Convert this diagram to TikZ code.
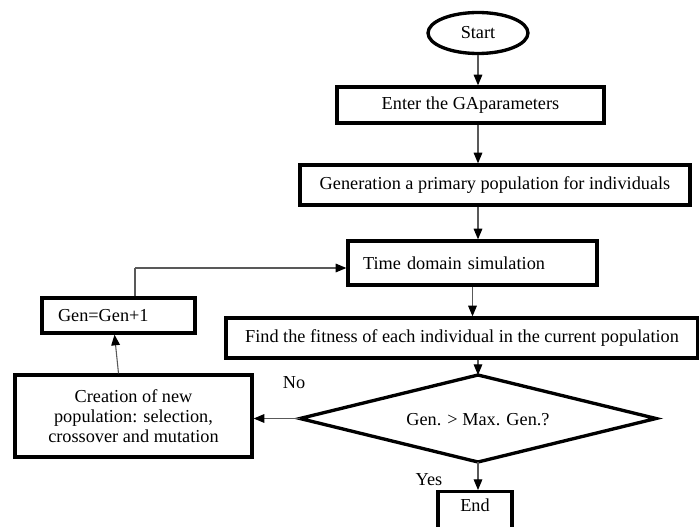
\documentclass[tikz,border=0pt]{standalone}
\usepackage{fontspec}
\setmainfont{Liberation Serif}
\usetikzlibrary{shapes.geometric,arrows.meta,calc}
\begin{document}
\begin{tikzpicture}[x=0.75pt,y=-0.75pt,
  every node/.style={font=\fontsize{13.7}{14.8}\selectfont},
  box/.style={draw=black, line width=2.5pt, rectangle, inner sep=0pt, align=center},
  conn/.style={draw=black!65, line width=0.8pt, -{Triangle[black,length=8pt,width=6.5pt]}},
  plain/.style={draw=black!65, line width=0.8pt}]
\clip (0,0) rectangle (699,527);
\fill[white] (0,0) rectangle (699,527);
\node[draw=black, line width=2.5pt, ellipse, minimum width=75pt, minimum height=30.75pt, inner sep=0pt] (start) at (478,33) {Start};
\node[box, minimum width=200.25pt, minimum height=27pt] (enter) at (470.5,105) {Enter the GAparameters};
\node[box, minimum width=292.5pt, minimum height=30pt] (gen) at (495,185) {Generation a primary population for individuals};
\node[box, minimum height=33pt, text width=164.25pt, inner xsep=11.25pt, align=left] (time) at (472.5,263) {Time domain simulation};
\node[box, minimum width=354pt, minimum height=30pt] (find) at (462,338) {Find the fitness of each individual in the current population};
\coordinate (dT) at (478,375);
\coordinate (dB) at (478,462);
\coordinate (dL) at (300,418.5);
\coordinate (dR) at (656,418.5);
\draw[line width=2.5pt, line join=miter] (dT) -- (dR) -- (dB) -- (dL) -- cycle;
\node (dia) at (478,420) {Gen. > Max. Gen.?};
\node[box, minimum height=26.25pt, text width=90.75pt, inner xsep=12pt, align=left] (inc) at (118.5,315.5) {Gen=Gen+1};
\node[box, minimum width=177.75pt, minimum height=61.5pt] (create) at (133.5,416) {Creation of new\\population: selection,\\crossover and mutation};
\node[box, anchor=north, minimum width=55.5pt, inner ysep=7pt, text height=8pt, text depth=25pt] (end) at (475,490) {End};
\node (no) at (294,383) {No};
\node (yes) at (429,480) {Yes};
\coordinate (fb) at (135,268);
\draw[conn] (start.south) -- (start.south |- enter.north);
\draw[conn] (enter.south -| start.south) -- (gen.north -| start.south);
\draw[conn] (gen.south -| start.south) -- (time.north -| start.south);
\draw[conn] (time.south) -- (time.south |- find.north);
\draw[conn] (dT |- find.south) -- (dT);
\draw[conn] (dB) -- (dB |- end.north);
\draw[conn] (dL) -- (create.east |- dL);
\draw[conn] (inc.south |- create.north) -- ($(inc.south)+(-4,0)$);
\draw[plain] (inc.north -| fb) -- (fb);
\draw[conn] (fb) -- (time.west |- fb);
\end{tikzpicture}
\end{document}
